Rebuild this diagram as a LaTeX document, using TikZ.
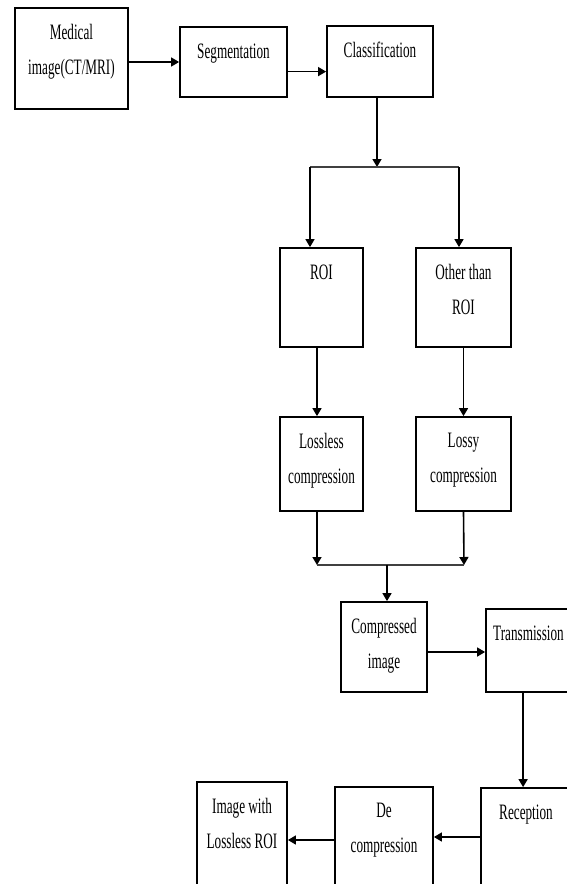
\documentclass[tikz,border=0pt]{standalone}
\usepackage{fontspec}
\setmainfont{Liberation Serif}[FakeStretch=0.6]
\usetikzlibrary{arrows.meta}

\begin{document}
\begin{tikzpicture}[x=0.5pt, y=-0.5pt,
  blk/.style={draw, line width=0.9pt, inner sep=0pt, label={[txt]north:#1}},
  txt/.style={anchor=north, align=center, inner sep=0pt, yshift=-8.5pt,
    font=\fontsize{11}{17.5}\selectfont},
  arr/.style={line width=0.8pt, -{Triangle[length=4pt,width=4.5pt]}}]
  % page is 567 x 884 px, 1 px = 0.5pt
  \clip (0,0) rectangle (567,884);

  % top row
  \node[blk={Medical\\image(CT/MRI)}, minimum width=56.5pt, minimum height=50.5pt] (med) at (71.5,58.5) {};
  \node[blk={Segmentation}, minimum width=53.5pt, minimum height=35pt] (seg) at (233.5,62) {};
  \node[blk={Classification}, minimum width=53pt, minimum height=35.5pt] (cls) at (380,61.5) {};

  % two branches
  \node[blk={ROI}, minimum width=41.5pt, minimum height=49.5pt] (roi) at (321.5,297.5) {};
  \node[blk={Other than\\ROI}, minimum width=47.5pt, minimum height=49.5pt] (oth) at (463.5,297.5) {};
  \node[blk={Lossless\\compression}, minimum width=41.5pt, minimum height=47pt] (lsl) at (321.5,464) {};
  \node[blk={Lossy\\compression}, minimum width=47.5pt, minimum height=47pt] (lsy) at (463.5,464) {};

  % after compression
  \node[blk={Compressed\\image}, minimum width=43pt, minimum height=45pt] (cmp) at (384,647) {};
  \node[blk={Transmission}, minimum width=42.5pt, minimum height=41.5pt] (trn) at (528.5,650.5) {};
  \node[blk={Reception}, minimum width=45pt, minimum height=52pt] (rcp) at (526,840) {};
  \node[blk={De\\compression}, minimum width=49pt, minimum height=53pt] (dec) at (384,840) {};
  \node[blk={Image with\\Lossless ROI}, minimum width=45pt, minimum height=55pt] (img) at (242,837) {};

  % split and join points
  \coordinate (fork) at (377,167);
  \coordinate (forkL) at (310,167);
  \coordinate (forkR) at (459,167);
  \coordinate (join) at (387,565);
  \coordinate (joinL) at (317,565);
  \coordinate (joinR) at (464,565);

  \draw[arr] (med.east |- seg.west) -- (seg.west);
  \draw[arr] (seg.-10) -- (seg.-10 -| cls.west);
  \draw[arr] (fork |- cls.south) -- (fork);
  \draw[line width=1.1pt, black!75] (forkL) -- (forkR);
  \draw[arr] (forkL) -- (forkL |- roi.north);
  \draw[arr] (forkR) -- (forkR |- oth.north);
  \draw[arr] ([xshift=-2.25pt]roi.south) -- ([xshift=-2.25pt]lsl.north);
  \draw[arr] (oth.south) -- (lsy.north);
  \draw[arr] ([xshift=-2.25pt]lsl.south) -- (joinL);
  \draw[arr] (lsy.south) -- (joinR);
  \draw[line width=1.1pt, black!75] (joinL) -- (joinR);
  \draw[arr] (join) -- (join |- cmp.north);
  \draw[arr] ([yshift=-2.5pt]cmp.east) -- ([yshift=-2.5pt]cmp.east -| trn.west);
  \draw[arr] ([xshift=19pt]trn.south west) -- ([xshift=19pt]trn.south west |- rcp.north);
  \draw[arr] ([yshift=1.5pt]rcp.west) -- ([yshift=1.5pt]rcp.west -| dec.east);
  \draw[arr] (dec.west) -- (dec.west -| img.east);
\end{tikzpicture}
\end{document}
